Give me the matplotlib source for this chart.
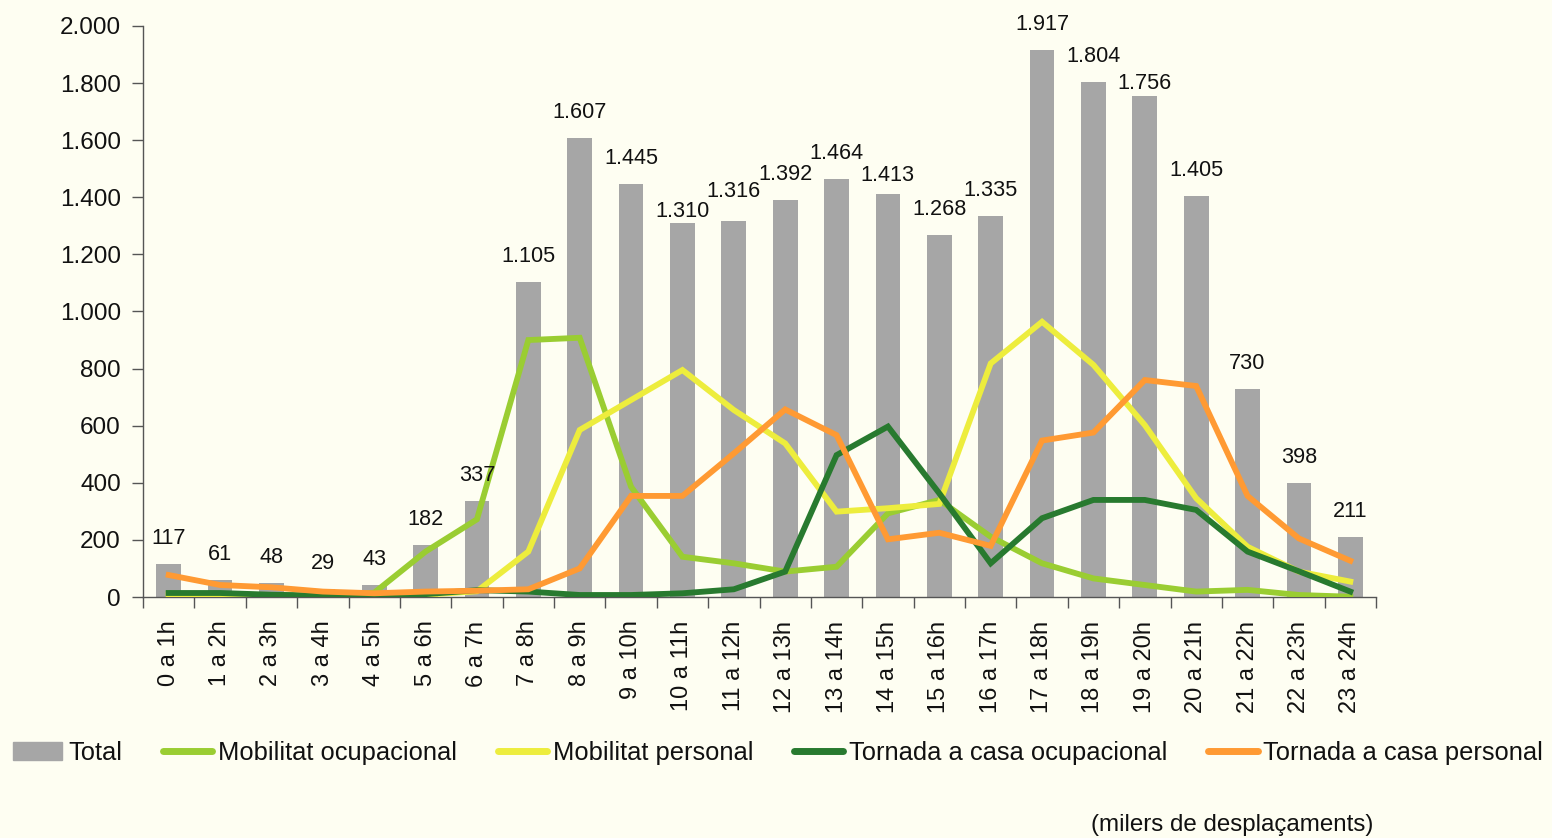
import matplotlib
matplotlib.use("Agg")
import matplotlib.pyplot as plt
from matplotlib import font_manager as fm
from matplotlib.patches import Patch
from matplotlib.lines import Line2D
import numpy as np

categories = ["0 a 1h", "1 a 2h", "2 a 3h", "3 a 4h", "4 a 5h", "5 a 6h", "6 a 7h", "7 a 8h",
              "8 a 9h", "9 a 10h", "10 a 11h", "11 a 12h", "12 a 13h", "13 a 14h", "14 a 15h",
              "15 a 16h", "16 a 17h", "17 a 18h", "18 a 19h", "19 a 20h", "20 a 21h", "21 a 22h",
              "22 a 23h", "23 a 24h"]
total = [117, 61, 48, 29, 43, 182, 337, 1105, 1607, 1445, 1310, 1316, 1392, 1464, 1413,
         1268, 1335, 1917, 1804, 1756, 1405, 730, 398, 211]
mob_ocup = [12, 10, 6, 4, 15, 159, 272, 900, 908, 386, 141, 118, 89, 106, 293,
            340, 211, 118, 65, 42, 19, 25, 7, 1]
mob_pers = [8, 6, 4, 3, 5, 8, 20, 159, 585, 690, 795, 655, 538, 299, 311,
            326, 818, 964, 813, 602, 346, 176, 89, 54]
torn_ocup = [14, 14, 8, 5, 5, 10, 24, 19, 7, 7, 13, 27, 89, 497, 597,
             363, 118, 276, 340, 340, 305, 159, 90, 19]
torn_pers = [77, 42, 34, 19, 13, 19, 22, 27, 100, 354, 354, 503, 657, 567, 202,
             225, 179, 548, 576, 760, 739, 354, 205, 127]
yticks = [0, 200, 400, 600, 800, 1000, 1200, 1400, 1600, 1800, 2000]

names = {f.name for f in fm.fontManager.ttflist}
base_font = "Liberation Sans" if "Liberation Sans" in names else "DejaVu Sans"
plt.rcParams["font.family"] = [base_font, "DejaVu Sans"]

bg = "#FEFEF2"
txt = "#111111"
fig = plt.figure(figsize=(15.52, 8.38), dpi=100, facecolor=bg)
ax = fig.add_axes([143 / 1552, 1 - 597 / 838, (1376 - 143) / 1552, (597 - 26) / 838])
ax.set_facecolor(bg)

def fmt(v):
    return f"{v:,}".replace(",", ".")

x = np.arange(len(categories))
ax.bar(x, total, width=0.48, color="#A6A6A6", zorder=1)

# label placement (points above bar top); a few labels sit lower to avoid collisions
label_lift = {10: 4.3, 14: 9.4, 19: 5.0, 11: 17.2}
for xi, v in zip(x, total):
    ax.annotate(fmt(v), (xi, v), xytext=(0, label_lift.get(int(xi), 14.4)),
                textcoords="offset points", ha="center", va="baseline",
                fontsize=15.6, color=txt, zorder=5)

lw = 4.2
ax.plot(x, mob_ocup, color="#9ACD32", lw=lw, zorder=3, solid_joinstyle="miter")
ax.plot(x, mob_pers, color="#EDED3D", lw=lw, zorder=3, solid_joinstyle="miter")
ax.plot(x, torn_ocup, color="#287A2F", lw=lw, zorder=3, solid_joinstyle="miter")
ax.plot(x, torn_pers, color="#FF9A33", lw=lw, zorder=3, solid_joinstyle="miter")

ax.set_xlim(-0.5, len(categories) - 0.5)
ax.set_ylim(0, 2000)
ax.set_yticks(yticks)
ax.set_yticklabels([fmt(v) for v in yticks], fontsize=17.5, color=txt)
ax.tick_params(axis="y", direction="out", length=8, width=1, color="#555555", pad=8)
ax.set_xticks(x)
ax.set_xticklabels(categories, rotation=90, fontsize=17, va="top", ha="center", color=txt)
ax.set_xticks(np.arange(len(categories) + 1) - 0.5, minor=True)
ax.tick_params(axis="x", which="major", length=0, pad=17)
ax.tick_params(axis="x", which="minor", direction="out", length=8, width=1, color="#555555")
for s in ["top", "right"]:
    ax.spines[s].set_visible(False)
for s in ["left", "bottom"]:
    ax.spines[s].set_color("#555555")
    ax.spines[s].set_linewidth(1)

handles = [Patch(color="#A6A6A6"),
           Line2D([], [], color="#9ACD32", lw=5, solid_capstyle="round"),
           Line2D([], [], color="#EDED3D", lw=5, solid_capstyle="round"),
           Line2D([], [], color="#287A2F", lw=5, solid_capstyle="round"),
           Line2D([], [], color="#FF9A33", lw=5, solid_capstyle="round")]
labels = ["Total", "Mobilitat ocupacional", "Mobilitat personal",
          "Tornada a casa ocupacional", "Tornada a casa personal"]
leg = fig.legend(handles, labels, loc="center left", bbox_to_anchor=(13 / 1552, 1 - 753 / 838),
                 ncol=5, frameon=False, prop={"size": 18.4},
                 handlelength=1.93, handleheight=0.7, handletextpad=0.22, columnspacing=1.6,
                 borderpad=0, borderaxespad=0)
for t in leg.get_texts():
    t.set_color(txt)

fig.text(1373 / 1552, 1 - 825 / 838, "(milers de desplaçaments)", ha="right", va="center",
         fontsize=17.4, color=txt)

fig.savefig("out.png", dpi=100, facecolor=bg)
